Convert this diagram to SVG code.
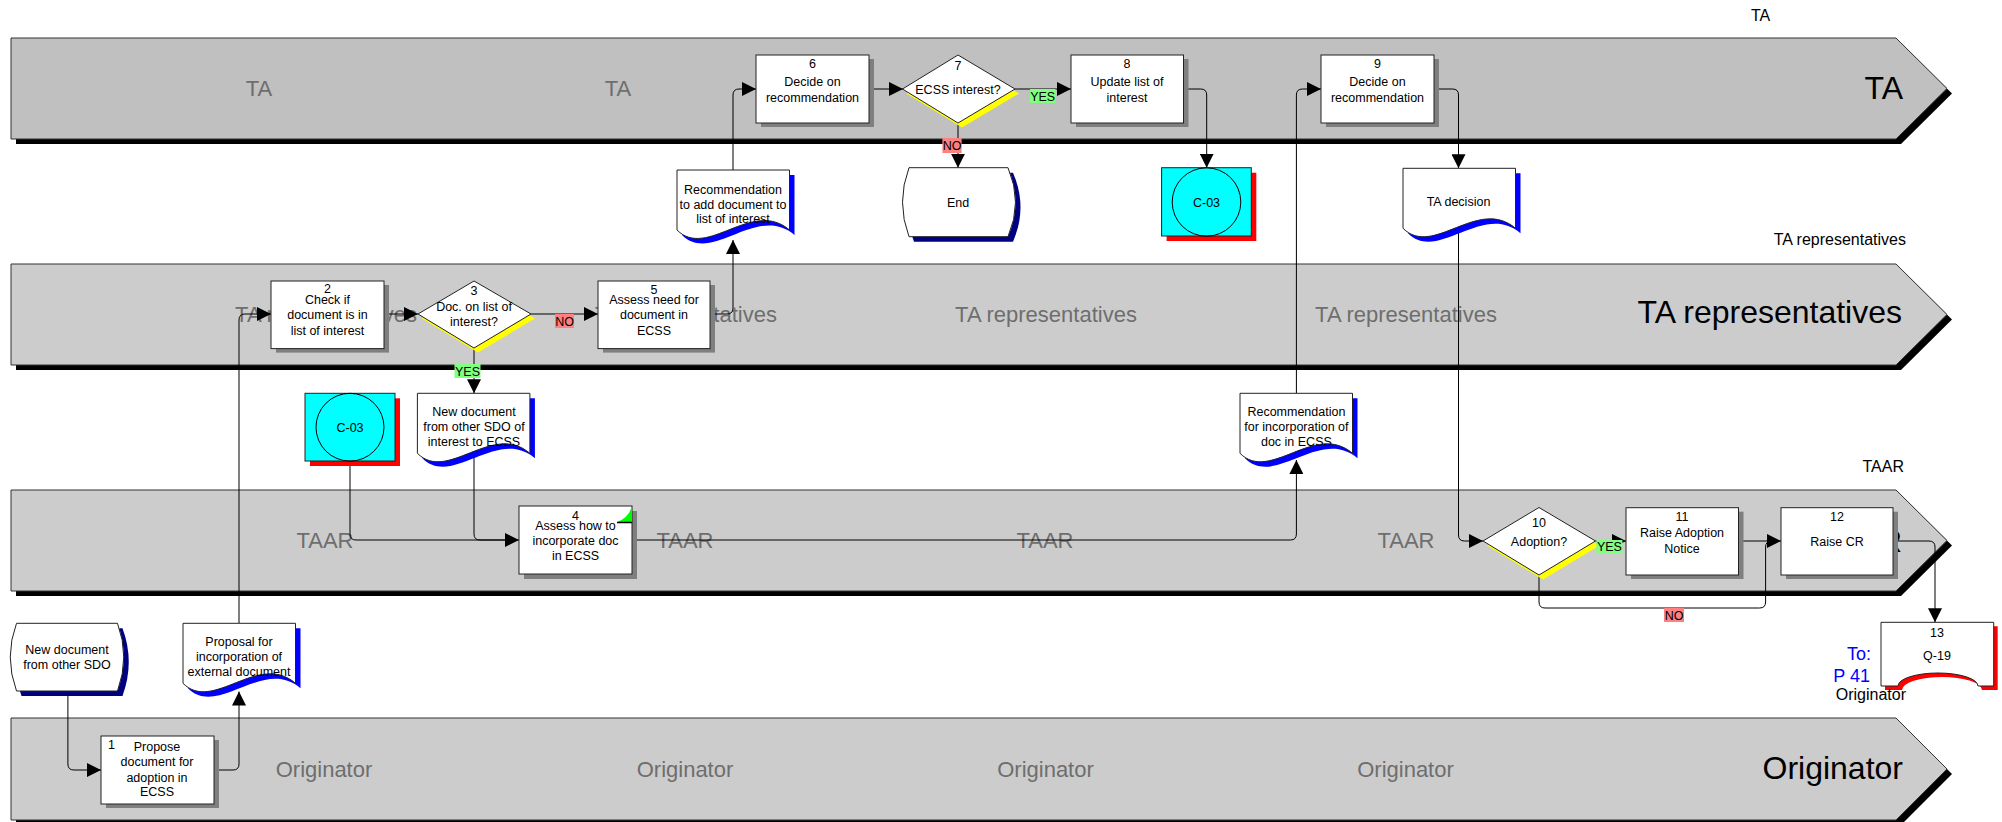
<svg xmlns="http://www.w3.org/2000/svg" width="2002" height="822" viewBox="0 0 2002 822">
<defs>
  <marker id="arr" markerUnits="userSpaceOnUse" markerWidth="14" markerHeight="14" refX="14" refY="7" orient="auto">
    <path d="M0,0 L14,7 L0,14 Z" fill="#000"/>
  </marker>
  <!-- document shape with wavy bottom -->
  <path id="docShape" d="M0,0 H112.5 V60 C75,28 30,90 0,60 Z"/>
</defs>
<style>
  text{font-family:"Liberation Sans",Arial,sans-serif}
  .lane{stroke:#333;stroke-width:1}
  .l1{fill:#c0c0c0}
  .l2{fill:#cccccc}
  .lsh{fill:#000}
  .ll{font-size:22px;fill:#6e6e6e;text-anchor:middle}
  .lt{font-size:32px;fill:#000;text-anchor:end}
  .ol{font-size:16px;fill:#000}
  .t{font-size:12.5px;fill:#000;text-anchor:middle}
  .box{fill:#fff;stroke:#222;stroke-width:1}
  .bsh{fill:#7f7f7f}
  .dsh{fill:#ffff00}
  .doc{fill:#fff;stroke:#222;stroke-width:1}
  .docsh{fill:#0000ff}
  .tsh{fill:#000080}
  .rsh{fill:#ff0000}
  .con{fill:none;stroke:#000;stroke-width:1}
  .arr{marker-end:url(#arr)}
  .yes{fill:#80ff80}
  .no{fill:#ff8080}
  .blue{font-size:18px;fill:#0000ff;text-anchor:end}
</style>

<!-- swimlanes -->
<g id="lanes">
  <path class="lsh" d="M16,43 H1901 L1952,93.5 L1901,144 H16 Z"/>
  <path class="lane l1" d="M11,38 H1896 L1947,88.5 L1896,139 H11 Z"/>
  <path class="lsh" d="M16,269 H1901 L1952,319.5 L1901,370 H16 Z"/>
  <path class="lane l2" d="M11,264 H1896 L1947,314.5 L1896,365 H11 Z"/>
  <path class="lsh" d="M16,495 H1901 L1952,545.5 L1901,596 H16 Z"/>
  <path class="lane l2" d="M11,490 H1896 L1947,540.5 L1896,591 H11 Z"/>
  <path class="lsh" d="M16,723 H1901 L1952,774 L1901,825 H16 Z"/>
  <path class="lane l2" d="M11,718 H1896 L1947,769 L1896,820 H11 Z"/>
</g>

<g id="lane-labels">
  <text class="ll" x="259" y="96">TA</text>
  <text class="ll" x="618" y="96">TA</text>
  <text class="lt" x="1903" y="99">TA</text>

  <text class="ll" x="326" y="321.5">TA representatives</text>
  <text class="ll" x="686" y="321.5">TA representatives</text>
  <text class="ll" x="1046" y="321.5">TA representatives</text>
  <text class="ll" x="1406" y="321.5">TA representatives</text>
  <text class="lt" x="1902" y="323">TA representatives</text>

  <text class="ll" x="325" y="548">TAAR</text>
  <text class="ll" x="685" y="548">TAAR</text>
  <text class="ll" x="1045" y="548">TAAR</text>
  <text class="ll" x="1406" y="548">TAAR</text>
  <text class="lt" x="1902" y="551.5">TAAR</text>

  <text class="ll" x="324" y="777">Originator</text>
  <text class="ll" x="685" y="777">Originator</text>
  <text class="ll" x="1045.5" y="777">Originator</text>
  <text class="ll" x="1405.5" y="777">Originator</text>
  <text class="lt" x="1903" y="779">Originator</text>
</g>

<!-- connectors -->
<g id="connectors">
  <path class="con arr" d="M67.9,691 V764 Q67.9,770 73.9,770 H101"/>
  <path class="con arr" d="M214,770 H233 Q239,770 239,764 V691.5"/>
  <path class="con arr" d="M239,623 V320 Q239,314 245,314 H271"/>
  <path class="con arr" d="M384,314 H418"/>
  <path class="con arr" d="M531,314 H598"/>
  <path class="con arr" d="M474,348 V393.3"/>
  <path class="con arr" d="M710,314 H727 Q733,314 733,308 V240"/>
  <path class="con arr" d="M733,170 V95 Q733,89 739,89 H756"/>
  <path class="con arr" d="M869,89 H903"/>
  <path class="con arr" d="M1015,89 H1071"/>
  <path class="con arr" d="M958,123 V167.7"/>
  <path class="con arr" d="M1183.5,89 H1200.7 Q1206.7,89 1206.7,95 V167.7"/>
  <path class="con arr" d="M1434,89 H1452.5 Q1458.5,89 1458.5,95 V168.3"/>
  <path class="con arr" d="M1458.5,232 V535 Q1458.5,541 1464.5,541 H1483"/>
  <path class="con arr" d="M1595.5,541 H1626"/>
  <path class="con" d="M1539,575 V602 Q1539,608 1545,608 H1759.6 Q1765.6,608 1765.6,602 V547 Q1765.6,541 1771.6,541 H1775"/>
  <path class="con arr" d="M1738.5,541 H1781"/>
  <path class="con arr" d="M1893,541 H1929 Q1935,541 1935,547 V622.3"/>
  <path class="con arr" d="M350,461 V534 Q350,540 356,540 H519"/>
  <path class="con" d="M474,455 V534 Q474,540 480,540 H505"/>
  <path class="con arr" d="M632,540 H1290.4 Q1296.4,540 1296.4,534 V460"/>
  <path class="con arr" d="M1296.4,393.3 V95 Q1296.4,89 1302.4,89 H1321"/>
</g>

<!-- TA lane -->
<g id="n6">
  <rect class="bsh" x="761" y="59" width="113" height="68"/>
  <rect class="box" x="756" y="55" width="113" height="68"/>
  <text class="t" x="812.5" y="67.5">6</text>
  <text class="t" x="812.5" y="85.5">Decide on</text>
  <text class="t" x="812.5" y="101.5">recommendation</text>
</g>
<g id="n7">
  <path class="dsh" d="M962,59.5 L1019,93.5 L962,127.5 L906.5,93.5 Z"/>
  <path class="box" d="M958,55 L1015,89 L958,123 L902.5,89 Z"/>
  <text class="t" x="958" y="69.5">7</text>
  <text class="t" x="958" y="93.5">ECSS interest?</text>
</g>
<g id="n8">
  <rect class="bsh" x="1076" y="59" width="112.5" height="68"/>
  <rect class="box" x="1071" y="55" width="112.5" height="68"/>
  <text class="t" x="1127" y="67.5">8</text>
  <text class="t" x="1127" y="85.5">Update list of</text>
  <text class="t" x="1127" y="101.5">interest</text>
</g>
<g id="n9">
  <rect class="bsh" x="1326" y="59" width="113" height="68"/>
  <rect class="box" x="1321" y="55" width="113" height="68"/>
  <text class="t" x="1377.5" y="67.5">9</text>
  <text class="t" x="1377.5" y="85.5">Decide on</text>
  <text class="t" x="1377.5" y="101.5">recommendation</text>
</g>

<!-- outputs of the TA lane -->
<g id="doc-recommendation-add">
  <use href="#docShape" class="docsh" x="682" y="175"/>
  <use href="#docShape" class="doc" x="677" y="170"/>
  <text class="t" x="733" y="193.5">Recommendation</text>
  <text class="t" x="733" y="208.5">to add document to</text>
  <text class="t" x="733" y="223">list of interest</text>
</g>
<g id="end">
  <path class="tsh" d="M914,172.7 H1013 Q1028,207.2 1013,241.7 H914 Q901,207.2 914,172.7 Z"/>
  <path class="doc" d="M909,167.7 H1008 Q1023,202.2 1008,236.7 H909 Q896,202.2 909,167.7 Z"/>
  <text class="t" x="958" y="206.5">End</text>
</g>
<g id="c03-top">
  <rect class="rsh" x="1166.6" y="172.7" width="89.7" height="68.3"/>
  <rect x="1161.6" y="167.7" width="89.7" height="68.3" fill="#00ffff" stroke="#222"/>
  <ellipse cx="1206.5" cy="202" rx="34.3" ry="34.2" fill="none" stroke="#000"/>
  <text class="t" x="1206.5" y="206.5">C-03</text>
</g>
<g id="doc-ta-decision">
  <use href="#docShape" class="docsh" x="1408" y="173.3"/>
  <use href="#docShape" class="doc" x="1403" y="168.3"/>
  <text class="t" x="1458.5" y="206">TA decision</text>
</g>

<!-- TA representatives lane -->
<g id="n2">
  <rect class="bsh" x="276" y="285" width="113" height="67.6"/>
  <rect class="box" x="271" y="281" width="113" height="67.6"/>
  <text class="t" x="327.5" y="293">2</text>
  <text class="t" x="327.5" y="303.5">Check if</text>
  <text class="t" x="327.5" y="319">document is in</text>
  <text class="t" x="327.5" y="334.5">list of interest</text>
</g>
<g id="n3">
  <path class="dsh" d="M478,285.5 L535,318.5 L478,352.5 L422,318.5 Z"/>
  <path class="box" d="M474,281 L531,314 L474,348 L418,314 Z"/>
  <text class="t" x="474" y="295">3</text>
  <text class="t" x="474" y="311">Doc. on list of</text>
  <text class="t" x="474" y="326">interest?</text>
</g>
<g id="n5">
  <rect class="bsh" x="603" y="285" width="112" height="67.6"/>
  <rect class="box" x="598" y="281" width="112" height="67.6"/>
  <text class="t" x="654" y="293.5">5</text>
  <text class="t" x="654" y="303.5">Assess need for</text>
  <text class="t" x="654" y="319">document in</text>
  <text class="t" x="654" y="334.5">ECSS</text>
</g>

<!-- between TA representatives and TAAR -->
<g id="c03-left">
  <rect class="rsh" x="310" y="398.3" width="90" height="67.7"/>
  <rect x="305" y="393.3" width="90" height="67.7" fill="#00ffff" stroke="#222"/>
  <ellipse cx="350" cy="427.2" rx="34" ry="33.9" fill="none" stroke="#000"/>
  <text class="t" x="350" y="431.5">C-03</text>
</g>
<g id="doc-new-of-interest">
  <use href="#docShape" class="docsh" x="422.4" y="398.3"/>
  <use href="#docShape" class="doc" x="417.4" y="393.3"/>
  <text class="t" x="474" y="416">New document</text>
  <text class="t" x="474" y="431">from other SDO of</text>
  <text class="t" x="474" y="446">interest to ECSS</text>
</g>
<g id="doc-recommendation-incorporation">
  <use href="#docShape" class="docsh" x="1245" y="398.3"/>
  <use href="#docShape" class="doc" x="1240" y="393.3"/>
  <text class="t" x="1296.4" y="416">Recommendation</text>
  <text class="t" x="1296.4" y="431">for incorporation of</text>
  <text class="t" x="1296.4" y="446">doc in ECSS</text>
</g>

<!-- TAAR lane -->
<g id="n4">
  <rect class="bsh" x="524" y="511" width="113" height="68"/>
  <rect class="box" x="519" y="506" width="113" height="68"/>
  <path d="M617,522 Q628,518 631.5,507.5 V522 Z" fill="#00ff00"/>
  <path d="M617,522.5 H632" stroke="#000" stroke-width="1.5"/>
  <text class="t" x="575.5" y="519.5">4</text>
  <text class="t" x="575.5" y="529.5">Assess how to</text>
  <text class="t" x="575.5" y="544.5">incorporate doc</text>
  <text class="t" x="575.5" y="559.5">in ECSS</text>
</g>
<g id="n10">
  <path class="dsh" d="M1543,512 L1599.5,545.5 L1543,579.5 L1487,545.5 Z"/>
  <path class="box" d="M1539,507.5 L1595.5,541 L1539,575 L1483,541 Z"/>
  <text class="t" x="1539" y="527">10</text>
  <text class="t" x="1539" y="545.5">Adoption?</text>
</g>
<g id="n11">
  <rect class="bsh" x="1631" y="511.7" width="112.5" height="67.3"/>
  <rect class="box" x="1626" y="507.7" width="112.5" height="67.3"/>
  <text class="t" x="1682" y="520.5">11</text>
  <text class="t" x="1682" y="537">Raise Adoption</text>
  <text class="t" x="1682" y="553">Notice</text>
</g>
<g id="n12">
  <rect class="bsh" x="1786" y="511.7" width="112" height="67.3"/>
  <rect class="box" x="1781" y="507.7" width="112" height="67.3"/>
  <text class="t" x="1837" y="520.5">12</text>
  <text class="t" x="1837" y="545.5">Raise CR</text>
</g>

<!-- Originator lane and its inputs -->
<g id="start-new-document">
  <path class="tsh" d="M21.5,628.3 H122.5 Q135,662 122.5,696 H21.5 Q9,662 21.5,628.3 Z"/>
  <path class="doc" d="M16.5,623.3 H117.5 Q130,657 117.5,691 H16.5 Q4,657 16.5,623.3 Z"/>
  <text class="t" x="67" y="653.5">New document</text>
  <text class="t" x="67" y="669">from other SDO</text>
</g>
<g id="doc-proposal">
  <use href="#docShape" class="docsh" x="188" y="628.3"/>
  <use href="#docShape" class="doc" x="183" y="623.3"/>
  <text class="t" x="239" y="646">Proposal for</text>
  <text class="t" x="239" y="661">incorporation of</text>
  <text class="t" x="239" y="676">external document</text>
</g>
<g id="n1">
  <rect class="bsh" x="106" y="740" width="113" height="68"/>
  <rect class="box" x="101" y="736" width="113" height="68"/>
  <text class="t" x="111.5" y="748.5">1</text>
  <text class="t" x="157" y="751">Propose</text>
  <text class="t" x="157" y="766">document for</text>
  <text class="t" x="157" y="781.5">adoption in</text>
  <text class="t" x="157" y="796">ECSS</text>
</g>

<!-- off-page reference -->
<g id="n13">
  <path class="rsh" d="M1885,626.3 H1997.7 V690 H1982 A40 13 0 0 0 1902 690 H1885 Z"/>
  <path class="doc" d="M1881,622.3 H1993.7 V686 H1978 A40 13 0 0 0 1898 686 H1881 Z"/>
  <text class="t" x="1937" y="636.5">13</text>
  <text class="t" x="1937" y="660">Q-19</text>
  <text class="blue" x="1871" y="659.5">To:</text>
  <text class="blue" x="1870" y="682">P 41</text>
</g>

<!-- branch labels -->
<g id="branch-labels">
  <rect class="no" x="555" y="314" width="19" height="14"/>
  <text class="t" x="564.5" y="325.5">NO</text>
  <rect class="yes" x="454.5" y="364" width="26" height="14"/>
  <text class="t" x="467.5" y="375.5">YES</text>
  <rect class="yes" x="1030" y="89" width="25.5" height="14"/>
  <text class="t" x="1042.7" y="100.5">YES</text>
  <rect class="no" x="942.4" y="138" width="19.2" height="15"/>
  <text class="t" x="952" y="149.5">NO</text>
  <rect class="yes" x="1596.4" y="540" width="26" height="13.5"/>
  <text class="t" x="1609.4" y="551">YES</text>
  <rect class="no" x="1664" y="608" width="20" height="14"/>
  <text class="t" x="1674" y="619.5">NO</text>
</g>

<!-- lane names above each lane -->
<g id="outer-labels">
  <text class="ol" x="1751" y="21">TA</text>
  <text class="ol" x="1906" y="245" text-anchor="end">TA representatives</text>
  <text class="ol" x="1904" y="472" text-anchor="end">TAAR</text>
  <text class="ol" x="1906" y="700" text-anchor="end">Originator</text>
</g>
</svg>
